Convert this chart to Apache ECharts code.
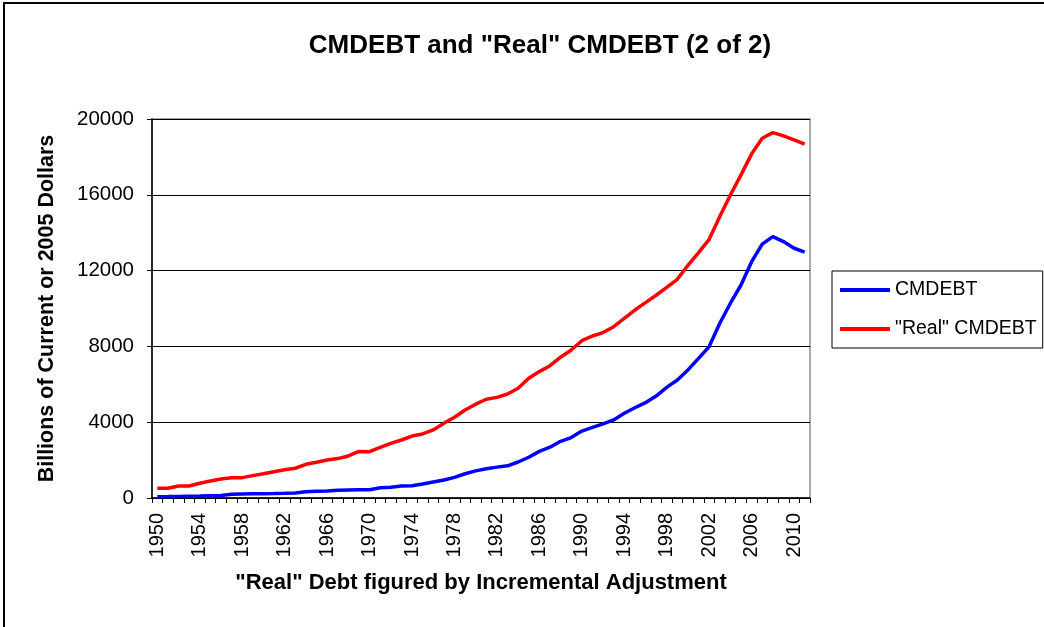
<!DOCTYPE html>
<html>
<head>
<meta charset="utf-8">
<script src="https://cdn.jsdelivr.net/npm/echarts@6/dist/echarts.min.js"></script>
<style>
html,body{margin:0;padding:0;background:#fff;}
#chart{width:1044px;height:627px;}
</style>
</head>
<body>
<div id="chart"></div>
<script>
const years = ["1950","1951","1952","1953","1954","1955","1956","1957","1958","1959",
"1960","1961","1962","1963","1964","1965","1966","1967","1968","1969",
"1970","1971","1972","1973","1974","1975","1976","1977","1978","1979",
"1980","1981","1982","1983","1984","1985","1986","1987","1988","1989",
"1990","1991","1992","1993","1994","1995","1996","1997","1998","1999",
"2000","2001","2002","2003","2004","2005","2006","2007","2008","2009",
"2010","2011"];

const cmdebt = [70,75,85,95,105,120,135,200,210,220,
228,238,250,265,330,350,365,405,420,430,
440,540,570,630,650,740,845,950,1090,1280,
1430,1540,1630,1700,1900,2150,2460,2680,2990,3190,
3530,3730,3910,4120,4470,4760,5030,5380,5840,6230,
6760,7370,7990,9220,10280,11240,12470,13400,13790,13530,
13180,12970];

const realCmdebt = [510,510,630,630,775,900,1000,1070,1075,1180,
1280,1390,1495,1570,1780,1885,2005,2080,2220,2460,
2445,2675,2885,3060,3270,3380,3590,3940,4260,4645,
4950,5210,5310,5490,5790,6320,6670,6980,7430,7810,
8300,8550,8730,9040,9480,9920,10310,10700,11120,11540,
12280,12950,13650,14850,15990,17050,18160,18980,19280,19110,
18900,18670];

const yTicks = {min: 0, max: 20000, interval: 4000};

const FONT = '"Liberation Sans", Arial, sans-serif';
const chart = echarts.init(document.getElementById('chart'), null, {renderer: 'canvas'});
chart.setOption({
  backgroundColor: '#fff',
  animation: false,
  graphic: [{
    type: 'rect', z: 100,
    shape: {x: 4, y: 3, width: 1100, height: 700},
    style: {fill: 'none', stroke: '#000', lineWidth: 2}
  }],
  title: {
    text: 'CMDEBT and "Real" CMDEBT (2 of 2)',
    left: 535, top: 28, textAlign: 'center',
    textStyle: {fontFamily: FONT, fontSize: 26, fontWeight: 'bold', color: '#000'}
  },
  legend: {
    orient: 'vertical',
    left: 832, top: 271,
    padding: [9, 6, 9, 8],
    itemGap: 19,
    itemWidth: 50, itemHeight: 4,
    borderColor: '#000', borderWidth: 1,
    icon: 'rect',
    textStyle: {fontFamily: FONT, fontSize: 19.5, color: '#000'},
    data: ['CMDEBT', '"Real" CMDEBT']
  },
  grid: {
    left: 152, right: 234, top: 119, bottom: 129,
    show: true, borderColor: '#909090', borderWidth: 1.5, backgroundColor: '#fff'
  },
  xAxis: {
    type: 'category',
    data: years,
    boundaryGap: true,
    name: '"Real" Debt figured by Incremental Adjustment',
    nameLocation: 'middle',
    nameGap: 74,
    nameTextStyle: {fontFamily: FONT, fontSize: 22, fontWeight: 'bold', color: '#000'},
    axisLine: {lineStyle: {color: '#000', width: 1.5}},
    axisTick: {show: true, interval: 0, length: 5, lineStyle: {color: '#000'}},
    axisLabel: {interval: 3, rotate: 90, margin: 15, fontFamily: FONT, fontSize: 20, color: '#000'},
    splitLine: {show: false}
  },
  yAxis: {
    type: 'value',
    min: yTicks.min, max: yTicks.max, interval: yTicks.interval,
    name: 'Billions of Current or 2005 Dollars',
    nameLocation: 'middle',
    nameGap: 94,
    nameTextStyle: {fontFamily: FONT, fontSize: 21.5, fontWeight: 'bold', color: '#000'},
    axisLine: {show: true, lineStyle: {color: '#000', width: 1.5}},
    axisTick: {show: true, length: 5, lineStyle: {color: '#000'}},
    axisLabel: {margin: 18, fontFamily: FONT, fontSize: 20.5, color: '#000',
      formatter: function (v) { return String(v); }},
    splitLine: {show: true, lineStyle: {color: '#000', width: 1}}
  },
  series: [
    {name: 'CMDEBT', type: 'line', data: cmdebt, showSymbol: false, symbol: 'none',
     lineStyle: {color: '#0000ff', width: 3.5}, itemStyle: {color: '#0000ff'}, z: 3},
    {name: '"Real" CMDEBT', type: 'line', data: realCmdebt, showSymbol: false, symbol: 'none',
     lineStyle: {color: '#ff0000', width: 3.5}, itemStyle: {color: '#ff0000'}, z: 3}
  ]
});
</script>
</body>
</html>
